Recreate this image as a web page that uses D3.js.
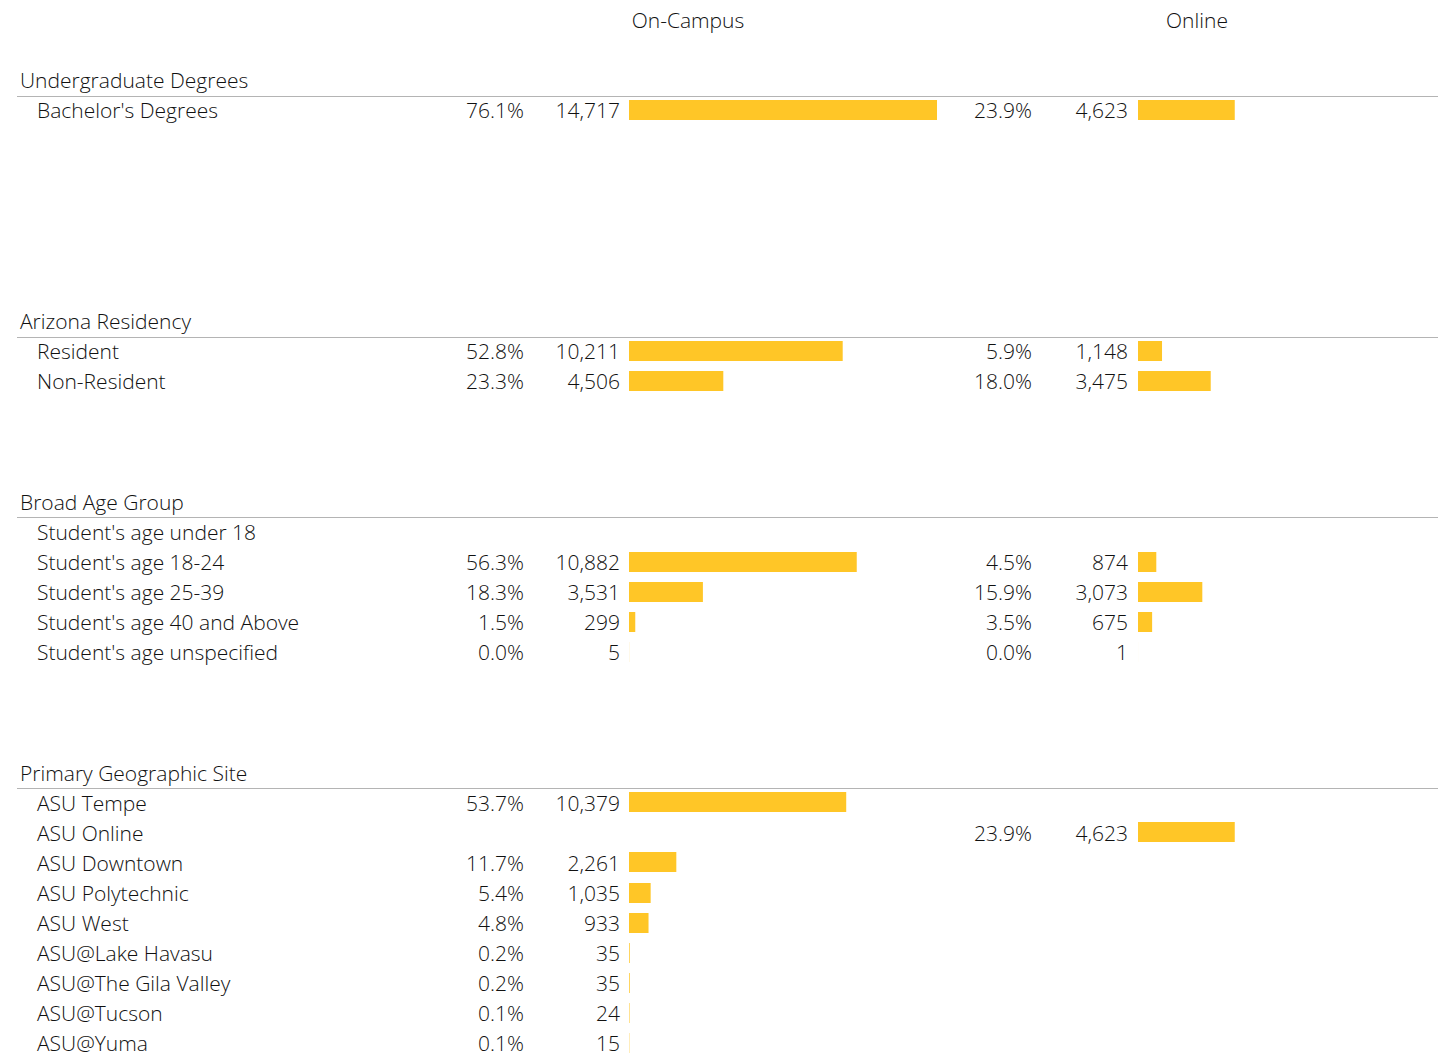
<!DOCTYPE html>
<html>
<head>
<meta charset="utf-8">
<script src="https://cdn.jsdelivr.net/npm/d3@7"></script>
<style>
  body { margin: 0; background: #fff; }
  text { font-family: "Open Sans", "Noto Sans", sans-serif; font-weight: 300; fill: #111; }
</style>
</head>
<body>
<div id="chart"></div>
<script>
// ---- data ----
var columns = ["On-Campus", "Online"];
var sections = ["Undergraduate Degrees", "Arizona Residency", "Broad Age Group", "Primary Geographic Site"];
// row slot where each section header sits
var sectionSlots = [0, 8, 14, 23];

var degreeLabels = ["Bachelor's Degrees"];
var degreeCampus = [14717];
var degreeCampusPct = ["76.1%"];
var degreeOnline = [4623];
var degreeOnlinePct = ["23.9%"];

var residencyLabels = ["Resident", "Non-Resident"];
var residencyCampus = [10211, 4506];
var residencyCampusPct = ["52.8%", "23.3%"];
var residencyOnline = [1148, 3475];
var residencyOnlinePct = ["5.9%", "18.0%"];

var ageLabels = ["Student's age under 18", "Student's age 18-24", "Student's age 25-39", "Student's age 40 and Above", "Student's age unspecified"];
var ageCampus = [null, 10882, 3531, 299, 5];
var ageCampusPct = [null, "56.3%", "18.3%", "1.5%", "0.0%"];
var ageOnline = [null, 874, 3073, 675, 1];
var ageOnlinePct = [null, "4.5%", "15.9%", "3.5%", "0.0%"];

var siteLabels = ["ASU Tempe", "ASU Online", "ASU Downtown", "ASU Polytechnic", "ASU West", "ASU@Lake Havasu", "ASU@The Gila Valley", "ASU@Tucson", "ASU@Yuma"];
var siteCampus = [10379, null, 2261, 1035, 933, 35, 35, 24, 15];
var siteCampusPct = ["53.7%", null, "11.7%", "5.4%", "4.8%", "0.2%", "0.2%", "0.1%", "0.1%"];
var siteOnline = [null, 4623, null, null, null, null, null, null, null];
var siteOnlinePct = [null, "23.9%", null, null, null, null, null, null, null];

var groups = [
  [degreeLabels, degreeCampus, degreeCampusPct, degreeOnline, degreeOnlinePct],
  [residencyLabels, residencyCampus, residencyCampusPct, residencyOnline, residencyOnlinePct],
  [ageLabels, ageCampus, ageCampusPct, ageOnline, ageOnlinePct],
  [siteLabels, siteCampus, siteCampusPct, siteOnline, siteOnlinePct]
];

// ---- layout ----
var W = 1438, H = 1059;
var gold = "#FFC627";
var fs = "21px";

var rows = [];
groups.forEach(function(g, si) {
  g[0].forEach(function(lab, i) {
    rows.push({slot: sectionSlots[si] + 1 + i, label: lab,
      campus: g[1][i], campusPct: g[2][i], online: g[3][i], onlinePct: g[4][i]});
  });
});

// y: slot index -> row center
var y = d3.scaleLinear().domain([0, 32]).range([81, 1044]);
// bar length scale, shared by both panels
var x = d3.scaleLinear().domain([0, 14717]).range([0, 308]);

var panels = [
  {key: "campus", pct: "campusPct", pctX: 524, numX: 620, barX: 629, title: 688},
  {key: "online", pct: "onlinePct", pctX: 1032, numX: 1128, barX: 1138, title: 1197}
];

var svg = d3.select("#chart").append("svg")
  .attr("width", W).attr("height", H);

var fmt = d3.format(",");

// column titles
svg.selectAll(".coltitle")
  .data(columns)
  .enter().append("text")
  .attr("x", function(d, i) { return panels[i].title; })
  .attr("y", y(-2))
  .attr("dy", "0.35em")
  .attr("text-anchor", "middle")
  .attr("font-size", fs)
  .text(function(d) { return d; });

// section headers + divider lines
sections.forEach(function(s, i) {
  svg.append("text")
    .attr("x", 20).attr("y", y(sectionSlots[i]))
    .attr("dy", "0.35em")
    .attr("font-size", fs)
    .text(s);
  svg.append("line")
    .attr("x1", 17).attr("x2", W)
    .attr("y1", Math.round(y(sectionSlots[i]) + 15) + 0.5)
    .attr("y2", Math.round(y(sectionSlots[i]) + 15) + 0.5)
    .attr("stroke", "#b4b4b4").attr("stroke-width", 1);
});

// row labels
svg.selectAll(".rowlabel")
  .data(rows)
  .enter().append("text")
  .attr("x", 37)
  .attr("y", function(d) { return y(d.slot); })
  .attr("dy", "0.35em")
  .attr("font-size", fs)
  .text(function(d) { return d.label; });

panels.forEach(function(p) {
  var live = rows.filter(function(d) { return d[p.key] != null; });

  svg.selectAll(".pct-" + p.key)
    .data(live)
    .enter().append("text")
    .attr("x", p.pctX)
    .attr("y", function(d) { return y(d.slot); })
    .attr("dy", "0.35em")
    .attr("text-anchor", "end")
    .attr("font-size", fs)
    .text(function(d) { return d[p.pct]; });

  svg.selectAll(".num-" + p.key)
    .data(live)
    .enter().append("text")
    .attr("x", p.numX)
    .attr("y", function(d) { return y(d.slot); })
    .attr("dy", "0.35em")
    .attr("text-anchor", "end")
    .attr("font-size", fs)
    .text(function(d) { return fmt(d[p.key]); });

  svg.selectAll(".bar-" + p.key)
    .data(live)
    .enter().append("rect")
    .attr("x", p.barX)
    .attr("y", function(d) { return Math.round(y(d.slot)) - 11; })
    .attr("height", 20)
    .attr("width", function(d) { return x(d[p.key]); })
    .attr("fill", gold);
});
</script>
</body>
</html>
